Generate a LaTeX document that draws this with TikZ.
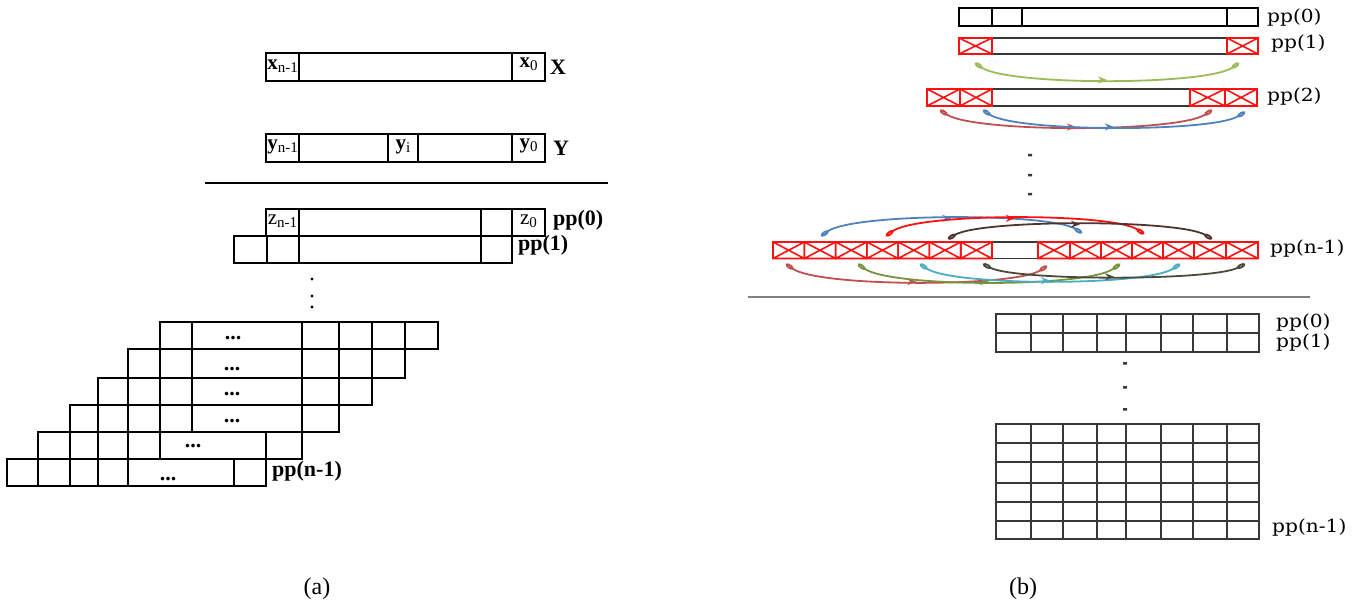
\documentclass[tikz,border=0pt]{standalone}
\usepackage{fontspec}
\setmainfont{Liberation Serif}
\newfontfamily\ppfont[FakeStretch=1.12]{DejaVu Serif}
\usetikzlibrary{arrows.meta,decorations.markings}

\definecolor{ogreen}{HTML}{9BBB59}
\definecolor{ored}{HTML}{C0504D}
\definecolor{oblue}{HTML}{4F81BD}
\definecolor{bred}{HTML}{FF1010}
\definecolor{dbrown}{HTML}{4E3430}
\definecolor{lgreen}{HTML}{77933C}
\definecolor{ocyan}{HTML}{4BACC6}
\definecolor{dolive}{HTML}{4A4A3A}
\definecolor{gridgray}{HTML}{383838}
\definecolor{tipfill}{HTML}{C8C8C8}

% letter with a small lowered index
\newcommand{\subl}[2]{#1\raisebox{-3pt}{\fontsize{15}{15}\selectfont #2}}
% red crossed-out cell
\newcommand{\xcell}[4]{\draw[xc] (#1,#2) rectangle (#3,#4) (#1,#2) -- (#3,#4) (#1,#4) -- (#3,#2);}

\begin{document}
\begin{tikzpicture}[x=1pt,y=-1pt,
  cell/.style={draw=black,line width=1.3pt},
  gcell/.style={draw=gridgray,line width=1.6pt},
  xc/.style={draw=bred,line width=1.6pt},
  lab/.style={inner sep=0pt,font=\fontsize{21}{21}\selectfont},
  blab/.style={inner sep=0pt,anchor=west,font=\fontsize{22}{22}\selectfont\bfseries},
  plab/.style={inner sep=0pt,anchor=west,font=\fontsize{18}{18}\selectfont\ppfont},
  dots/.style={inner sep=0pt,anchor=base,font=\fontsize{22}{22}\selectfont\bfseries},
  captext/.style={inner sep=0pt,font=\fontsize{24}{24}\selectfont},
  carrow/.style={draw=#1,line width=1.8pt,
    {Ellipse[fill=tipfill,length=9pt,width=4.5pt]}-{Ellipse[fill=tipfill,length=9pt,width=4.5pt]},
    postaction={decorate},
    decoration={markings,mark=at position 0.5 with {\arrow[#1]{Stealth[length=9pt,width=7pt]}}}}
]
\useasboundingbox (0,0) rectangle (1370,612);

%% ---------------- (a) ----------------
% operand X
\draw[cell] (266,53) rectangle (545,81);
\draw[cell] (299,53) -- (299,81) (512,53) -- (512,81);
\node[lab] (xn) at (282.5,66) {\subl{\textbf{x}}{n-1}};
\node[lab] (x0) at (528.5,64) {\subl{\textbf{x}}{0}};
\node[blab] (X) at (550,67) {X};

% operand Y
\draw[cell] (266,134) rectangle (545,162);
\draw[cell] (299,134) -- (299,162) (388,134) -- (388,162) (418,134) -- (418,162) (512,134) -- (512,162);
\node[lab] (yn) at (282.5,147) {\subl{\textbf{y}}{n-1}};
\node[lab] (yi) at (403,147) {\subl{\textbf{y}}{i}};
\node[lab] (y0) at (528.5,146) {\subl{\textbf{y}}{0}};
\node[blab] (Y) at (553,148) {Y};

\draw[line width=1.3pt] (205,183) -- (608,183);

% partial products
\draw[cell] (266,209) rectangle (545,236);
\draw[cell] (299,209) -- (299,236) (481,209) -- (481,236) (512,209) -- (512,236);
\node[lab] (zn) at (282.5,221) {\subl{z}{n-1}};
\node[lab] (z0) at (528.5,221) {\subl{z}{0}};
\node[blab] (pa0) at (553,220) {pp(0)};

\draw[cell] (234,236) rectangle (512,263);
\draw[cell] (267,236) -- (267,263) (299,236) -- (299,263) (481,236) -- (481,263);
\node[blab] (pa1) at (518,245) {pp(1)};

\fill (312,279) circle (1.7) (312,296) circle (1.7) (312,307) circle (1.7);

% staircase of shifted rows
\draw[cell] (160,322) rectangle (438,349);
\foreach \x in {192,302,339,372,405} \draw[cell] (\x,322) -- (\x,349);
\draw[cell] (128,349) rectangle (405,378);
\foreach \x in {160,192,302,339,372} \draw[cell] (\x,349) -- (\x,378);
\draw[cell] (98,378) rectangle (372,405);
\foreach \x in {128,160,192,302,339} \draw[cell] (\x,378) -- (\x,405);
\draw[cell] (70,405) rectangle (339,432);
\foreach \x in {98,128,160,192,302} \draw[cell] (\x,405) -- (\x,432);
\draw[cell] (38,432) rectangle (302,459);
\foreach \x in {70,98,128,160,266} \draw[cell] (\x,432) -- (\x,459);
\draw[cell] (7,459) rectangle (266,486);
\foreach \x in {38,70,98,128,234} \draw[cell] (\x,459) -- (\x,486);

\node[dots] (dA) at (233,339) {...};
\node[dots] (dB) at (232,370) {...};
\node[dots] (dC) at (232,395) {...};
\node[dots] (dD) at (232,422) {...};
\node[dots] (dE) at (193,447) {...};
\node[dots] (dF) at (168,480) {...};
\node[blab] (pan) at (272,471) {pp(n-1)};

\node[captext] (capa) at (317,589) {(a)};

%% ---------------- (b) ----------------
% pp(0)
\draw[cell] (959,8) rectangle (1258,26);
\draw[cell] (992,8) -- (992,26) (1022,8) -- (1022,26) (1227,8) -- (1227,26);
\node[plab] (pb0) at (1267,18) {pp(0)};

% pp(1)
\draw[gcell] (959,38) rectangle (1258,54);
\xcell{959}{38}{992}{54}
\xcell{1227}{38}{1258}{54}
\node[plab] (pb1) at (1271,44) {pp(1)};

% pp(2)
\draw[gcell] (927,89) rectangle (1257,106);
\xcell{927}{89}{960}{106}
\xcell{960}{89}{992}{106}
\xcell{1190}{89}{1225}{106}
\xcell{1225}{89}{1257}{106}
\node[plab] (pb2) at (1267,97) {pp(2)};

\fill[gridgray] (1028,154) rectangle (1032,156.5) (1028,174) rectangle (1032,176.5) (1028,193) rectangle (1032,195.5);

% pp(n-1)
\draw[gcell] (773,242) rectangle (1258,258.5);
\foreach \a/\b in {773/804.3,804.3/835.6,835.6/866.9,866.9/898.1,898.1/929.4,929.4/960.7,960.7/992,
                   1038/1070,1070/1101,1101/1132,1132/1163,1163/1194,1194/1226,1226/1258}
  {\xcell{\a}{242}{\b}{258.5}}
\node[plab] (pbn) at (1270,249) {pp(n-1)};

% shift arrows between rows
\coordinate (g1s) at (975,63);  \coordinate (g1e) at (1239,63);
\coordinate (r2s) at (940,110); \coordinate (r2e) at (1212,110);
\coordinate (b2s) at (983,110); \coordinate (b2e) at (1245,112);
\draw[carrow=ogreen] (g1s) .. controls (1008,85.7) and (1206,85.7) .. (g1e);
\draw[carrow=ored]   (r2s) .. controls (974,132.7) and (1178,132.7) .. (r2e);
\draw[carrow=oblue]  (b2s) .. controls (1016,132.3) and (1212,132.3) .. (b2e);

\coordinate (ub1) at (821,236); \coordinate (ub2) at (1082,233);
\coordinate (ur1) at (886,236); \coordinate (ur2) at (1144,234);
\coordinate (ud1) at (948,239); \coordinate (ud2) at (1212,239);
\draw[carrow=oblue]  (ub1) .. controls (854,212.8) and (1049,212.8) .. (ub2);
\draw[carrow=bred]   (ur1) .. controls (918,212.7) and (1112,212.7) .. (ur2);
\draw[carrow=dbrown] (ud1) .. controls (981,219.3) and (1179,219.3) .. (ud2);

\coordinate (lr1) at (786,264); \coordinate (lr2) at (1047,266);
\coordinate (lg1) at (858,264); \coordinate (lg2) at (1120,264);
\coordinate (lc1) at (920,264); \coordinate (lc2) at (1180,264);
\coordinate (ld1) at (983,264); \coordinate (ld2) at (1245,264);
\draw[carrow=ored]   (lr1) .. controls (819,287.3) and (1014,287.3) .. (lr2);
\draw[carrow=lgreen] (lg1) .. controls (891,287.7) and (1087,287.7) .. (lg2);
\draw[carrow=ocyan]  (lc1) .. controls (953,286.3) and (1147,286.3) .. (lc2);
\draw[carrow=dolive] (ld1) .. controls (1016,281) and (1212,281) .. (ld2);

\draw[draw=gray,line width=1.6pt] (748,297) -- (1310,297);

% final result grids
\draw[gcell] (996,314) rectangle (1259,352);
\draw[gcell] (996,333) -- (1259,333);
\foreach \x in {1031,1063,1097,1126,1161,1193,1227} \draw[gcell] (\x,314) -- (\x,352);
\node[plab] (pc0) at (1276,323) {pp(0)};
\node[plab] (pc1) at (1276,343) {pp(1)};

\fill[gridgray] (1123,362) rectangle (1127,364.5) (1123,386) rectangle (1127,388.5) (1123,408) rectangle (1127,410.5);

\draw[gcell] (996,424) rectangle (1259,539);
\foreach \y in {443,462,483,502,521} \draw[gcell] (996,\y) -- (1259,\y);
\foreach \x in {1031,1063,1097,1126,1161,1193,1227} \draw[gcell] (\x,424) -- (\x,539);
\node[plab] (pcn) at (1272,528) {pp(n-1)};

\node[captext] (capb) at (1023,589) {(b)};
\end{tikzpicture}
\end{document}
